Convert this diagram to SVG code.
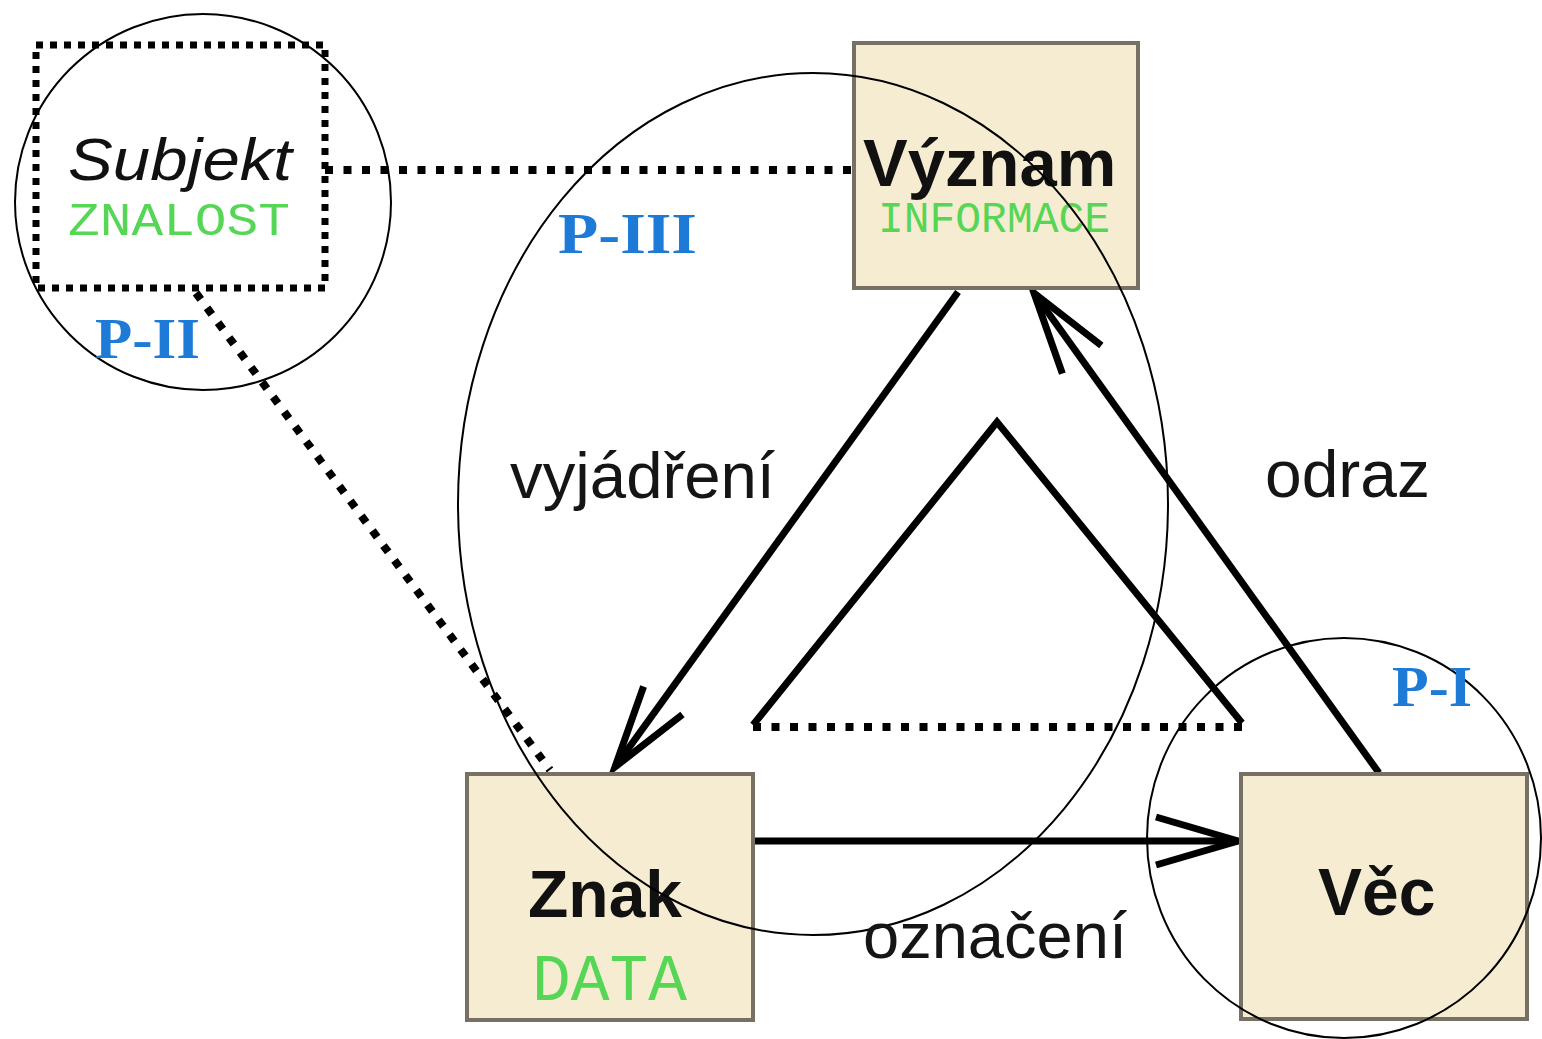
<svg xmlns="http://www.w3.org/2000/svg" width="1542" height="1039" viewBox="0 0 1542 1039">
<style>
.box{fill:#f5ecd2;stroke:#777163;stroke-width:4}
.main{font-family:"Liberation Sans",Arial,sans-serif;font-weight:bold;fill:#111}
.mono{font-family:"Liberation Mono","Courier New",monospace;fill:#55d655}
.pl{font-family:"Liberation Serif","Times New Roman",serif;font-weight:bold;fill:#1d7ad6}
.lbl{font-family:"Liberation Sans",Arial,sans-serif;fill:#151515}
.ring{fill:none;stroke:#000;stroke-width:2}
.solid{fill:none;stroke:#000;stroke-width:7}
.dots{fill:none;stroke:#000;stroke-width:8;stroke-dasharray:8 10.5}
</style>
<defs>
<marker id="arr" markerUnits="userSpaceOnUse" viewBox="-100 -40 110 80" markerWidth="110" markerHeight="80" refX="0" refY="0" orient="auto" overflow="visible">
<path d="M-82,-24 L0,0 L-82,24" fill="none" stroke="#000" stroke-width="7" stroke-linejoin="miter"/>
</marker>
</defs>
<rect width="1542" height="1039" fill="#fff"/>

<g id="connectors">
<line class="dots" x1="325" y1="170" x2="852" y2="170"/>
<line class="dots" x1="196" y1="293" x2="550" y2="770"/>
<line class="solid" x1="958" y1="292" x2="615" y2="767" marker-end="url(#arr)"/>
<line class="solid" x1="1379" y1="773" x2="1034" y2="293" marker-end="url(#arr)"/>
<line class="solid" x1="755" y1="841" x2="1238" y2="841" marker-end="url(#arr)"/>
<polyline class="solid" points="753,725 997,422 1242,723"/>
<line class="dots" x1="753" y1="727" x2="1242" y2="727"/>
</g>

<g id="subjekt">
<rect x="36" y="45" width="289" height="243" fill="none" stroke="#000" stroke-width="7" stroke-dasharray="7 7"/>
<text x="68" y="180" font-family="Liberation Sans, Arial, sans-serif" font-style="italic" font-size="60" fill="#111" textLength="224" lengthAdjust="spacingAndGlyphs">Subjekt</text>
<text class="mono" x="68" y="235" font-size="47" textLength="222" lengthAdjust="spacingAndGlyphs">ZNALOST</text>
</g>

<g id="vyznam">
<rect class="box" x="854" y="43" width="284" height="245"/>
<text class="main" x="863" y="186" font-size="67">Význam</text>
<text class="mono" x="878" y="232" font-size="44" textLength="232" lengthAdjust="spacingAndGlyphs">INFORMACE</text>
</g>

<g id="znak">
<rect class="box" x="467" y="774" width="286" height="246"/>
<text class="main" x="528" y="917" font-size="66">Znak</text>
<text class="mono" x="532" y="1000" font-size="66" textLength="155" lengthAdjust="spacingAndGlyphs">DATA</text>
</g>

<g id="vec">
<rect class="box" x="1241" y="774" width="286" height="245"/>
<text class="main" x="1318" y="915" font-size="66">Věc</text>
</g>

<g id="rings">
<circle class="ring" cx="203" cy="202" r="188"/>
<ellipse class="ring" cx="813" cy="504" rx="355" ry="431"/>
<ellipse class="ring" cx="1344" cy="838" rx="197" ry="200"/>
</g>

<g id="labels">
<text class="pl" x="558" y="253" font-size="57" textLength="139" lengthAdjust="spacingAndGlyphs">P-III</text>
<text class="pl" x="95" y="358" font-size="57" textLength="105" lengthAdjust="spacingAndGlyphs">P-II</text>
<text class="pl" x="1392" y="706" font-size="57" textLength="80" lengthAdjust="spacingAndGlyphs">P-I</text>
<text class="lbl" x="510" y="498" font-size="64" textLength="265" lengthAdjust="spacingAndGlyphs">vyjádření</text>
<text class="lbl" x="1265" y="497" font-size="66" textLength="165" lengthAdjust="spacingAndGlyphs">odraz</text>
<text class="lbl" x="863" y="958" font-size="65" textLength="264" lengthAdjust="spacingAndGlyphs">označení</text>
</g>
</svg>
